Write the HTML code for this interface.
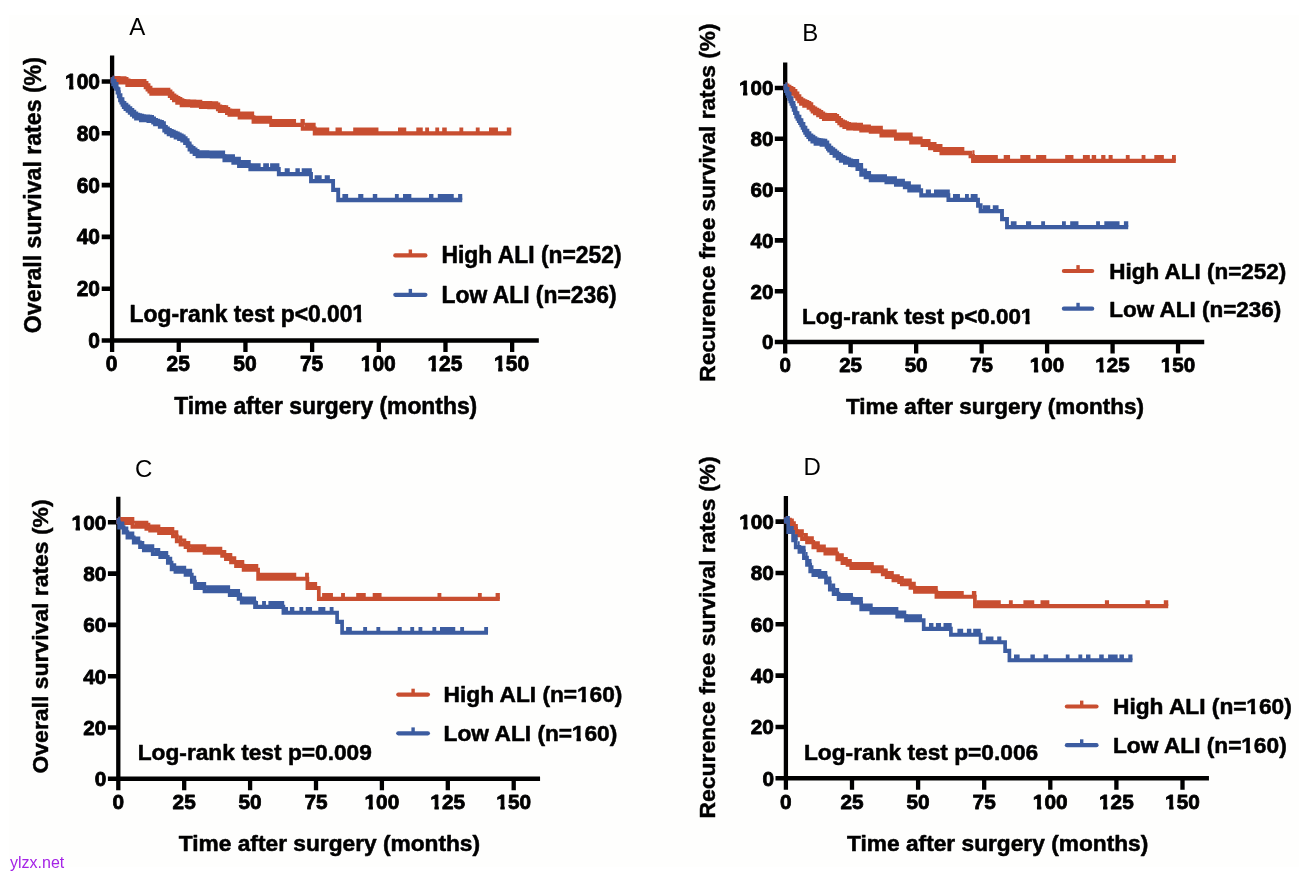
<!DOCTYPE html>
<html><head><meta charset="utf-8"><title>Kaplan-Meier curves</title>
<style>html,body{margin:0;padding:0;background:#fff}svg{display:block}
text{font-family:"Liberation Sans",Arial,Helvetica,sans-serif}</style></head>
<body><svg width="1306" height="878" viewBox="0 0 1306 878">
<rect width="1306" height="878" fill="#fff"/>
<rect x="9" y="15" width="1290" height="852" fill="#fefefd"/>
<defs><clipPath id="c0"><rect x="-3" y="-21.2" width="24.2" height="17.67"/><rect x="4.19" y="-4.24" width="4.4" height="7.24"/></clipPath><clipPath id="c1"><rect x="-3" y="-23.1" width="26.1" height="19.5"/><rect x="4.76" y="-4.62" width="4.41" height="7.62"/></clipPath><clipPath id="c2"><rect x="-3" y="-20.8" width="23.8" height="17.31"/><rect x="4.1" y="-4.16" width="4.35" height="7.16"/></clipPath><clipPath id="c3"><rect x="-3" y="-22.7" width="25.7" height="19.14"/><rect x="4.66" y="-4.54" width="4.36" height="7.54"/></clipPath><clipPath id="c4"><rect x="-3" y="-21" width="24" height="17.49"/><rect x="4.14" y="-4.2" width="4.38" height="7.2"/></clipPath><clipPath id="c5"><rect x="-3" y="-22.95" width="25.95" height="19.36"/><rect x="4.72" y="-4.59" width="4.39" height="7.59"/></clipPath></defs><path d="M112.1 55.6V342.8M112.1 340.5V351.9M178.77 340.5V351.9M245.45 340.5V351.9M312.12 340.5V351.9M378.8 340.5V351.9M445.48 340.5V351.9M512.15 340.5V351.9" stroke="#000" stroke-width="4.3" fill="none"/><path d="M109.95 340.5H538.82M101.7 340.5H112.1M101.7 288.7H112.1M101.7 236.9H112.1M101.7 185.1H112.1M101.7 133.3H112.1M101.7 81.5H112.1" stroke="#000" stroke-width="4.6" fill="none"/><text transform="translate(88.37 348.09) scale(0.99 1)" font-size="21.2" font-weight="bold" fill="#000" stroke="#000" stroke-width="0.8" stroke-linejoin="round">0</text><text transform="translate(76.64 296.29) scale(0.99 1)" font-size="21.2" font-weight="bold" fill="#000" stroke="#000" stroke-width="0.8" stroke-linejoin="round">20</text><text transform="translate(76.64 244.49) scale(0.99 1)" font-size="21.2" font-weight="bold" fill="#000" stroke="#000" stroke-width="0.8" stroke-linejoin="round">40</text><text transform="translate(76.64 192.69) scale(0.99 1)" font-size="21.2" font-weight="bold" fill="#000" stroke="#000" stroke-width="0.8" stroke-linejoin="round">60</text><text transform="translate(76.64 140.89) scale(0.99 1)" font-size="21.2" font-weight="bold" fill="#000" stroke="#000" stroke-width="0.8" stroke-linejoin="round">80</text><text transform="translate(64.91 89.09) scale(0.99 1)" font-size="21.2" font-weight="bold" fill="#000" stroke="#000" stroke-width="0.8" stroke-linejoin="round" clip-path="url(#c0)">1</text><text transform="translate(76.64 89.09) scale(0.99 1)" font-size="21.2" font-weight="bold" fill="#000" stroke="#000" stroke-width="0.8" stroke-linejoin="round">00</text><text transform="translate(105.73 370.9) scale(0.99 1)" font-size="21.2" font-weight="bold" fill="#000" stroke="#000" stroke-width="0.8" stroke-linejoin="round">0</text><text transform="translate(166.54 370.9) scale(0.99 1)" font-size="21.2" font-weight="bold" fill="#000" stroke="#000" stroke-width="0.8" stroke-linejoin="round">25</text><text transform="translate(233.22 370.9) scale(0.99 1)" font-size="21.2" font-weight="bold" fill="#000" stroke="#000" stroke-width="0.8" stroke-linejoin="round">50</text><text transform="translate(299.89 370.9) scale(0.99 1)" font-size="21.2" font-weight="bold" fill="#000" stroke="#000" stroke-width="0.8" stroke-linejoin="round">75</text><text transform="translate(360.7 370.9) scale(0.99 1)" font-size="21.2" font-weight="bold" fill="#000" stroke="#000" stroke-width="0.8" stroke-linejoin="round" clip-path="url(#c0)">1</text><text transform="translate(372.43 370.9) scale(0.99 1)" font-size="21.2" font-weight="bold" fill="#000" stroke="#000" stroke-width="0.8" stroke-linejoin="round">00</text><text transform="translate(427.38 370.9) scale(0.99 1)" font-size="21.2" font-weight="bold" fill="#000" stroke="#000" stroke-width="0.8" stroke-linejoin="round" clip-path="url(#c0)">1</text><text transform="translate(439.11 370.9) scale(0.99 1)" font-size="21.2" font-weight="bold" fill="#000" stroke="#000" stroke-width="0.8" stroke-linejoin="round">25</text><text transform="translate(494.05 370.9) scale(0.99 1)" font-size="21.2" font-weight="bold" fill="#000" stroke="#000" stroke-width="0.8" stroke-linejoin="round" clip-path="url(#c0)">1</text><text transform="translate(505.78 370.9) scale(0.99 1)" font-size="21.2" font-weight="bold" fill="#000" stroke="#000" stroke-width="0.8" stroke-linejoin="round">50</text><text transform="translate(174.13 414) scale(0.99 1)" font-size="23.1" font-weight="bold" fill="#000" stroke="#000" stroke-width="0.55" stroke-linejoin="round">Time after surgery (months)</text><text transform="translate(40.6 333.17) rotate(-90) scale(1 1)" font-size="23.1" font-weight="bold" text-anchor="start" stroke="#000" stroke-width="0.45" stroke-linejoin="round">Overall survival rates (%)</text><text transform="translate(129.6 322.3) scale(0.99 1)" font-size="23.1" font-weight="bold" fill="#000" stroke="#000" stroke-width="0.55" stroke-linejoin="round">Log-rank test p&lt;0.00</text><text transform="translate(352.17 322.3) scale(0.99 1)" font-size="23.1" font-weight="bold" fill="#000" stroke="#000" stroke-width="0.55" stroke-linejoin="round" clip-path="url(#c1)">1</text><path d="M395.3 255.4H425.4" stroke="#c84e30" stroke-width="4.2" stroke-linecap="round" fill="none"/><rect x="408.65" y="249.5" width="3.4" height="5.9" fill="#c84e30"/><text transform="translate(441.5 263) scale(0.99 1)" font-size="23.1" font-weight="bold" fill="#000" stroke="#000" stroke-width="0.55" stroke-linejoin="round">High ALI (n=252)</text><path d="M395.3 294.8H425.4" stroke="#3c5ca0" stroke-width="4.2" stroke-linecap="round" fill="none"/><rect x="408.65" y="288.9" width="3.4" height="5.9" fill="#3c5ca0"/><text transform="translate(441.5 302.6) scale(0.99 1)" font-size="23.1" font-weight="bold" fill="#000" stroke="#000" stroke-width="0.55" stroke-linejoin="round">Low ALI (n=236)</text><text x="129.3" y="34.5" font-size="24" font-weight="normal" text-anchor="start" fill="#000">A</text><g transform="scale(0.9 1)"><path d="M125 81.7H132.33V82.3H139.67H141.44V84.8H143.22H160.78H161.82V87.03H163.9V89.25H165.99V91.47H168.07V93.7H169.11H187.44H188.61V95.8H190.94V97.9H193.28V100H194.44H196.89V102.5H201.78V105H204.22H213.33V105.7H222.44H223.17V106.9H223.89H232.44V107.1H241H242.06V109H244.17V110.9H245.22H250.78H252.17V112.8H254.94V114.7H256.33H266.22V117.3H281.67V121.7H301.33V124.8H336.33V128.6H349.67V133.4H568" fill="none" stroke="#c84e30" stroke-width="4.3" stroke-linejoin="miter"/></g><path d="M112.5 81.7V75.8H114.54V81.7ZM114.49 81.79V75.89H116.54V81.79ZM116.49 81.88V75.98H118.53V81.88ZM118.48 81.97V76.07H120.53V81.97ZM120.48 82.06V76.16H122.52V82.06ZM122.47 82.15V76.25H124.52V82.15ZM124.47 82.24V76.34H126.51V82.24ZM126.46 82.9V77H128.51V82.9ZM128.46 84.45V78.55H130.5V84.45ZM130.45 84.8V78.9H132.5V84.8ZM132.45 84.8V78.9H134.49V84.8ZM134.44 84.8V78.9H136.48V84.8ZM136.43 84.8V78.9H138.48V84.8ZM138.43 84.8V78.9H140.47V84.8ZM140.42 84.8V78.9H142.47V84.8ZM142.42 84.8V78.9H144.46V84.8ZM144.41 84.8V78.9H146.46V84.8ZM146.41 86.83V80.93H148.45V86.83ZM148.4 89.19V83.29H150.45V89.19ZM150.4 91.56V85.66H152.44V91.56ZM152.39 93.7V87.8H154.44V93.7ZM154.39 93.7V87.8H156.43V93.7ZM156.38 93.7V87.8H158.43V93.7ZM158.38 93.7V87.8H160.42V93.7ZM160.37 93.7V87.8H162.41V93.7ZM162.36 93.7V87.8H164.41V93.7ZM164.36 93.7V87.8H166.4V93.7ZM166.35 93.7V87.8H168.4V93.7ZM168.35 93.7V87.8H170.39V93.7ZM170.34 95.34V89.44H172.39V95.34ZM172.34 97.34V91.44H174.38V97.34ZM174.33 99.33V93.43H176.38V99.33ZM176.33 100.75V94.85H178.37V100.75ZM178.32 101.89V95.99H180.37V101.89ZM180.32 103.02V97.12H182.36V103.02ZM182.31 104.15V98.25H184.35V104.15ZM184.3 105.02V99.12H186.35V105.02ZM186.3 105.11V99.21H188.34V105.11ZM188.29 105.19V99.29H190.34V105.19ZM190.29 105.28V99.38H192.33V105.28ZM192.28 105.36V99.46H194.33V105.36ZM194.28 105.45V99.55H196.32V105.45ZM196.27 105.53V99.63H198.32V105.53ZM198.27 105.62V99.72H200.31V105.62ZM200.26 105.76V99.86H202.31V105.76ZM202.26 106.91V101.01H204.3V106.91ZM204.25 106.94V101.04H206.29V106.94ZM206.24 106.96V101.06H208.29V106.96ZM208.24 106.99V101.09H210.28V106.99ZM210.23 107.01V101.11H212.28V107.01ZM212.23 107.04V101.14H214.27V107.04ZM214.22 107.07V101.17H216.27V107.07ZM216.22 107.09V101.19H218.26V107.09ZM218.21 108.41V102.51H220.26V108.41ZM220.21 110.41V104.51H222.25V110.41ZM222.2 110.9V105H224.25V110.9ZM224.2 110.9V105H226.24V110.9ZM226.19 111.27V105.37H228.23V111.27ZM228.18 112.79V106.89H230.23V112.79ZM230.18 114.3V108.4H232.22V114.3ZM232.17 114.7V108.8H234.22V114.7ZM234.17 114.7V108.8H236.21V114.7ZM236.16 114.7V108.8H238.21V114.7ZM238.16 114.7V108.8H240.2V114.7ZM240.15 117.3V111.4H242.2V117.3ZM242.15 117.3V111.4H244.19V117.3ZM244.14 117.3V111.4H246.19V117.3ZM246.14 117.3V111.4H248.18V117.3ZM248.13 117.3V111.4H250.18V117.3ZM250.12 117.3V111.4H252.17V117.3ZM252.12 117.3V111.4H254.16V117.3ZM254.11 121.7V115.8H256.16V121.7ZM256.11 121.7V115.8H258.15V121.7ZM258.1 121.7V115.8H260.15V121.7ZM260.1 121.7V115.8H262.14V121.7ZM262.09 121.7V115.8H264.14V121.7ZM264.09 121.7V115.8H266.13V121.7ZM266.08 121.7V115.8H268.13V121.7ZM268.08 121.7V115.8H270.12V121.7ZM270.07 121.7V115.8H272.12V121.7ZM272.07 124.8V118.9H274.11V124.8ZM274.06 124.8V118.9H276.1V124.8ZM276.05 124.8V118.9H278.1V124.8ZM278.05 124.8V118.9H280.09V124.8ZM280.04 124.8V118.9H282.09V124.8ZM282.04 124.8V118.9H284.08V124.8ZM284.03 124.8V118.9H286.08V124.8ZM286.03 124.8V118.9H288.07V124.8ZM288.02 124.8V118.9H290.07V124.8ZM290.02 124.8V118.9H292.06V124.8ZM292.01 124.8V118.9H294.06V124.8ZM294.01 124.8V118.9H296.05V124.8ZM304.8 128.6V122.7H306.65V128.6ZM306.6 128.6V122.7H308.45V128.6ZM308.4 128.6V122.7H310.25V128.6ZM310.2 128.6V122.7H312.05V128.6ZM312 128.6V122.7H313.85V128.6ZM313.8 128.6V122.7H315.65V128.6ZM300.5 124.8V118.9H304.8V124.8ZM315.3 133.4V127.5H317.34V133.4ZM317.29 133.4V127.5H319.32V133.4ZM319.27 133.4V127.5H321.31V133.4ZM321.26 133.4V127.5H323.29V133.4ZM323.24 133.4V127.5H325.28V133.4ZM325.23 133.4V127.5H327.26V133.4ZM327.21 133.4V127.5H329.25V133.4ZM335.5 133.4V127.5H337.12V133.4ZM337.07 133.4V127.5H338.7V133.4ZM338.65 133.4V127.5H340.28V133.4ZM340.23 133.4V127.5H341.85V133.4ZM353.2 133.4V127.5H355.19V133.4ZM355.14 133.4V127.5H357.13V133.4ZM357.08 133.4V127.5H359.07V133.4ZM359.02 133.4V127.5H361V133.4ZM360.95 133.4V127.5H362.94V133.4ZM362.89 133.4V127.5H364.88V133.4ZM364.83 133.4V127.5H366.82V133.4ZM366.77 133.4V127.5H368.76V133.4ZM368.71 133.4V127.5H370.7V133.4ZM370.65 133.4V127.5H372.63V133.4ZM372.58 133.4V127.5H374.57V133.4ZM374.52 133.4V127.5H376.51V133.4ZM376.46 133.4V127.5H378.45V133.4ZM398 133.4V127.5H399.69V133.4ZM399.64 133.4V127.5H401.33V133.4ZM401.28 133.4V127.5H402.97V133.4ZM402.92 133.4V127.5H404.61V133.4ZM404.56 133.4V127.5H406.25V133.4ZM416.3 133.4V127.5H417.95V133.4ZM417.9 133.4V127.5H419.55V133.4ZM419.5 133.4V127.5H421.15V133.4ZM421.1 133.4V127.5H422.75V133.4ZM425.2 133.4V127.5H427.15V133.4ZM427.1 133.4V127.5H429.05V133.4ZM435.3 133.4V127.5H437.25V133.4ZM437.2 133.4V127.5H439.15V133.4ZM442.2 133.4V127.5H443.75V133.4ZM443.7 133.4V127.5H445.25V133.4ZM445.2 133.4V127.5H446.75V133.4ZM459.4 133.4V127.5H461.35V133.4ZM461.3 133.4V127.5H463.25V133.4ZM475.8 133.4V127.5H477.75V133.4ZM477.7 133.4V127.5H479.65V133.4ZM489 133.4V127.5H490.83V133.4ZM490.78 133.4V127.5H492.61V133.4ZM492.56 133.4V127.5H494.39V133.4ZM494.34 133.4V127.5H496.17V133.4ZM496.12 133.4V127.5H497.95V133.4ZM506.8 133.4V127.5H508.32V133.4ZM508.27 133.4V127.5H509.78V133.4ZM509.73 133.4V127.5H511.25V133.4ZM110.6 83.2V77.3H114.4V83.2Z" fill="#c84e30"/><g transform="scale(0.9 1)"><path d="M125 81.7H125.81V84H127.44V86.3H129.07V88.6H129.89H130.59V92.4H132V96.2H133.41V100H134.11H134.8V102.3H136.17V104.6H137.54V106.9H138.22H139.41V108.8H141.78V110.7H144.15V112.6H145.33H146.5V114.5H148.83V116.4H151.17V118.3H152.33H156.56V120.2H160.78H164.94V120.8H169.11H170.17V122.4H172.28V124H173.33H177.56V126.5H181.78H182.5V130.3H183.22H184.61V132.2H187.39V134.1H188.78H190.89V135.7H195.11V137.3H197.22H198.97V138.85H202.47V140.4H204.22H205.64V142.95H208.47V145.5H209.89H210.56V149.3H211.22H212.87V151.6H216.17V153.9H219.46V156.2H221.11H235.22V156.4H249.33V160.2H259.22V162.7H265.56V165.9H278.11V169.1H309.78V174.1H345.56V181.1H370.11V189.9H375.78V200H513.56" fill="none" stroke="#3c5ca0" stroke-width="4.3" stroke-linejoin="miter"/></g><path d="M112.5 81.7V75.8H114.52V81.7ZM114.47 84.8V78.9H116.5V84.8ZM116.45 87.89V81.99H118.47V87.89ZM118.42 93.17V87.27H120.45V93.17ZM120.4 99.1V93.2H122.42V99.1ZM122.37 103.12V97.22H124.4V103.12ZM124.35 106.8V100.9H126.37V106.8ZM126.32 108.61V102.71H128.35V108.61ZM128.3 110.37V104.47H130.32V110.37ZM130.27 112.13V106.23H132.3V112.13ZM132.25 113.91V108.01H134.27V113.91ZM134.22 115.7V109.8H136.25V115.7ZM136.2 117.48V111.58H138.22V117.48ZM138.17 118.57V112.67H140.2V118.57ZM140.15 119.06V113.16H142.17V119.06ZM142.12 119.56V113.66H144.14V119.56ZM144.09 120.05V114.15H146.12V120.05ZM146.07 120.31V114.41H148.09V120.31ZM148.04 120.47V114.57H150.07V120.47ZM150.02 120.63V114.73H152.04V120.63ZM151.99 120.78V114.88H154.02V120.78ZM153.97 122.29V116.39H155.99V122.29ZM155.94 123.95V118.05H157.97V123.95ZM157.92 124.63V118.73H159.94V124.63ZM159.89 125.28V119.38H161.92V125.28ZM161.87 125.93V120.03H163.89V125.93ZM163.84 127.21V121.31H165.87V127.21ZM165.82 131V125.1H167.84V131ZM167.79 132.5V126.6H169.82V132.5ZM169.77 134V128.1H171.79V134ZM171.74 134.87V128.97H173.76V134.87ZM173.71 135.71V129.81H175.74V135.71ZM175.69 136.54V130.64H177.71V136.54ZM177.66 137.38V131.48H179.69V137.38ZM179.64 138.35V132.45H181.66V138.35ZM181.61 139.32V133.42H183.64V139.32ZM183.59 140.3V134.4H185.61V140.3ZM185.56 142.16V136.26H187.59V142.16ZM187.54 144.14V138.24H189.56V144.14ZM189.51 147.44V141.54H191.54V147.44ZM191.49 150.38V144.48H193.51V150.38ZM193.46 151.91V146.01H195.49V151.91ZM195.44 153.44V147.54H197.46V153.44ZM197.41 154.97V149.07H199.44V154.97ZM199.39 156.2V150.3H201.41V156.2ZM201.36 156.22V150.32H203.38V156.22ZM203.33 156.23V150.33H205.36V156.23ZM205.31 156.25V150.35H207.33V156.25ZM207.28 156.27V150.37H209.31V156.27ZM209.26 156.28V150.38H211.28V156.28ZM211.23 156.3V150.4H213.26V156.3ZM213.21 156.31V150.41H215.23V156.31ZM215.18 156.33V150.43H217.21V156.33ZM217.16 156.34V150.44H219.18V156.34ZM219.13 156.36V150.46H221.16V156.36ZM221.11 156.37V150.47H223.13V156.37ZM223.08 156.39V150.49H225.11V156.39ZM225.06 160.2V154.3H227.08V160.2ZM227.03 160.2V154.3H229.06V160.2ZM229.01 160.2V154.3H231.03V160.2ZM230.98 160.2V154.3H233V160.2ZM232.95 160.2V154.3H234.98V160.2ZM234.93 162.7V156.8H236.95V162.7ZM236.9 162.7V156.8H238.93V162.7ZM238.88 162.7V156.8H240.9V162.7ZM240.85 165.9V160H242.88V165.9ZM242.83 165.9V160H244.85V165.9ZM244.8 165.9V160H246.83V165.9ZM246.78 165.9V160H248.8V165.9ZM248.75 165.9V160H250.78V165.9ZM250.73 169.1V163.2H252.75V169.1ZM252.7 169.1V163.2H254.73V169.1ZM254.68 169.1V163.2H256.7V169.1ZM256.65 169.1V163.2H258.68V169.1ZM258.63 169.1V163.2H260.65V169.1ZM263.2 169.1V163.2H265.15V169.1ZM265.1 169.1V163.2H267.05V169.1ZM267 169.1V163.2H268.95V169.1ZM270.1 169.1V163.2H279.4V169.1ZM284.7 174.1V168.2H286.42V174.1ZM286.37 174.1V168.2H288.08V174.1ZM288.03 174.1V168.2H289.75V174.1ZM295.4 174.1V168.2H296.92V174.1ZM296.87 174.1V168.2H298.38V174.1ZM298.33 174.1V168.2H299.85V174.1ZM301.7 174.1V168.2H303.43V174.1ZM303.38 174.1V168.2H305.12V174.1ZM305.07 174.1V168.2H306.8V174.1ZM306.75 174.1V168.2H308.48V174.1ZM308.43 174.1V168.2H310.17V174.1ZM310.12 174.1V168.2H311.85V174.1ZM314.6 181.1V175.2H316.4V181.1ZM316.35 181.1V175.2H318.15V181.1ZM318.1 181.1V175.2H319.9V181.1ZM319.85 181.1V175.2H321.65V181.1ZM324.7 181.1V175.2H326.45V181.1ZM326.4 181.1V175.2H328.15V181.1ZM328.1 181.1V175.2H329.85V181.1ZM342.4 200V194.1H344.35V200ZM344.3 200V194.1H346.25V200ZM346.2 200V194.1H348.15V200ZM358.2 200V194.1H359.95V200ZM359.9 200V194.1H361.65V200ZM361.6 200V194.1H363.35V200ZM372.8 200V194.1H374.32V200ZM374.27 200V194.1H375.78V200ZM375.73 200V194.1H377.25V200ZM394.9 200V194.1H396.85V200ZM396.8 200V194.1H398.75V200ZM403 200V194.1H404.71V200ZM404.66 200V194.1H406.37V200ZM406.32 200V194.1H408.03V200ZM407.98 200V194.1H409.69V200ZM409.64 200V194.1H411.35V200ZM429 200V194.1H430.52V200ZM430.47 200V194.1H431.98V200ZM431.93 200V194.1H433.45V200ZM437.8 200V194.1H439.84V200ZM439.79 200V194.1H441.82V200ZM441.77 200V194.1H443.81V200ZM443.76 200V194.1H445.8V200ZM445.75 200V194.1H447.79V200ZM447.74 200V194.1H449.78V200ZM449.73 200V194.1H451.76V200ZM451.71 200V194.1H453.75V200ZM458.1 200V194.1H459.52V200ZM459.47 200V194.1H460.88V200ZM460.83 200V194.1H462.25V200ZM110.6 83.2V77.3H114.4V83.2Z" fill="#3c5ca0"/><path d="M785.2 62.6V344.3M785.2 342V353.4M850.68 342V353.4M916.15 342V353.4M981.62 342V353.4M1047.1 342V353.4M1112.58 342V353.4M1178.05 342V353.4" stroke="#000" stroke-width="4.3" fill="none"/><path d="M783.05 342H1204.24M774.8 342H785.2M774.8 291.2H785.2M774.8 240.4H785.2M774.8 189.6H785.2M774.8 138.8H785.2M774.8 88H785.2" stroke="#000" stroke-width="4.6" fill="none"/><text transform="translate(761.99 349.45) scale(0.99 1)" font-size="20.8" font-weight="bold" fill="#000" stroke="#000" stroke-width="0.8" stroke-linejoin="round">0</text><text transform="translate(750.48 298.65) scale(0.99 1)" font-size="20.8" font-weight="bold" fill="#000" stroke="#000" stroke-width="0.8" stroke-linejoin="round">20</text><text transform="translate(750.48 247.85) scale(0.99 1)" font-size="20.8" font-weight="bold" fill="#000" stroke="#000" stroke-width="0.8" stroke-linejoin="round">40</text><text transform="translate(750.48 197.05) scale(0.99 1)" font-size="20.8" font-weight="bold" fill="#000" stroke="#000" stroke-width="0.8" stroke-linejoin="round">60</text><text transform="translate(750.48 146.25) scale(0.99 1)" font-size="20.8" font-weight="bold" fill="#000" stroke="#000" stroke-width="0.8" stroke-linejoin="round">80</text><text transform="translate(738.97 95.45) scale(0.99 1)" font-size="20.8" font-weight="bold" fill="#000" stroke="#000" stroke-width="0.8" stroke-linejoin="round" clip-path="url(#c2)">1</text><text transform="translate(750.48 95.45) scale(0.99 1)" font-size="20.8" font-weight="bold" fill="#000" stroke="#000" stroke-width="0.8" stroke-linejoin="round">00</text><text transform="translate(779.45 372.1) scale(0.99 1)" font-size="20.8" font-weight="bold" fill="#000" stroke="#000" stroke-width="0.8" stroke-linejoin="round">0</text><text transform="translate(839.17 372.1) scale(0.99 1)" font-size="20.8" font-weight="bold" fill="#000" stroke="#000" stroke-width="0.8" stroke-linejoin="round">25</text><text transform="translate(904.64 372.1) scale(0.99 1)" font-size="20.8" font-weight="bold" fill="#000" stroke="#000" stroke-width="0.8" stroke-linejoin="round">50</text><text transform="translate(970.12 372.1) scale(0.99 1)" font-size="20.8" font-weight="bold" fill="#000" stroke="#000" stroke-width="0.8" stroke-linejoin="round">75</text><text transform="translate(1029.84 372.1) scale(0.99 1)" font-size="20.8" font-weight="bold" fill="#000" stroke="#000" stroke-width="0.8" stroke-linejoin="round" clip-path="url(#c2)">1</text><text transform="translate(1041.35 372.1) scale(0.99 1)" font-size="20.8" font-weight="bold" fill="#000" stroke="#000" stroke-width="0.8" stroke-linejoin="round">00</text><text transform="translate(1095.31 372.1) scale(0.99 1)" font-size="20.8" font-weight="bold" fill="#000" stroke="#000" stroke-width="0.8" stroke-linejoin="round" clip-path="url(#c2)">1</text><text transform="translate(1106.82 372.1) scale(0.99 1)" font-size="20.8" font-weight="bold" fill="#000" stroke="#000" stroke-width="0.8" stroke-linejoin="round">25</text><text transform="translate(1160.79 372.1) scale(0.99 1)" font-size="20.8" font-weight="bold" fill="#000" stroke="#000" stroke-width="0.8" stroke-linejoin="round" clip-path="url(#c2)">1</text><text transform="translate(1172.3 372.1) scale(0.99 1)" font-size="20.8" font-weight="bold" fill="#000" stroke="#000" stroke-width="0.8" stroke-linejoin="round">50</text><text transform="translate(846.01 414) scale(0.99 1)" font-size="22.7" font-weight="bold" fill="#000" stroke="#000" stroke-width="0.55" stroke-linejoin="round">Time after surgery (months)</text><text transform="translate(715.1 381.67) rotate(-90) scale(1 1)" font-size="22.7" font-weight="bold" text-anchor="start" stroke="#000" stroke-width="0.45" stroke-linejoin="round">Recurence free survival rates (%)</text><text transform="translate(802 323.6) scale(0.99 1)" font-size="22.7" font-weight="bold" fill="#000" stroke="#000" stroke-width="0.55" stroke-linejoin="round">Log-rank test p&lt;0.00</text><text transform="translate(1020.72 323.6) scale(0.99 1)" font-size="22.7" font-weight="bold" fill="#000" stroke="#000" stroke-width="0.55" stroke-linejoin="round" clip-path="url(#c3)">1</text><path d="M1063.9 271H1092.2" stroke="#c84e30" stroke-width="4.2" stroke-linecap="round" fill="none"/><rect x="1076.35" y="265.1" width="3.4" height="5.9" fill="#c84e30"/><text transform="translate(1109.2 278.6) scale(0.99 1)" font-size="22.7" font-weight="bold" fill="#000" stroke="#000" stroke-width="0.55" stroke-linejoin="round">High ALI (n=252)</text><path d="M1063.9 308.7H1092.2" stroke="#3c5ca0" stroke-width="4.2" stroke-linecap="round" fill="none"/><rect x="1076.35" y="302.8" width="3.4" height="5.9" fill="#3c5ca0"/><text transform="translate(1109.2 316.8) scale(0.99 1)" font-size="22.7" font-weight="bold" fill="#000" stroke="#000" stroke-width="0.55" stroke-linejoin="round">Low ALI (n=236)</text><text x="802.2" y="41.1" font-size="24" font-weight="normal" text-anchor="start" fill="#000">B</text><g transform="scale(0.9 1)"><path d="M872.67 88.3H874.33V90.07H877.67V91.83H881V93.6H882.67H883.72V96.1H885.83V98.6H886.89H887.94V101.15H890.06V103.7H891.11H893.56V105.6H898.44V107.5H900.89H901.58V109.4H902.97V111.3H903.67H905.44V113.15H909V115H910.78H912.33V116.9H915.44V118.8H917H929H930.17V120.93H932.5V123.07H934.83V125.2H936H938.11V126.75H942.33V128.3H944.44H950.06V128.7H955.67H956.89V130.3H967.44V131.6H979.33V135.4H995.44V138.5H1012.33V142.3H1025V144.8H1033.33V148H1039V149.9H1046V153H1078.33V156.2H1081.11V160.8H1306.44" fill="none" stroke="#c84e30" stroke-width="4.3" stroke-linejoin="miter"/></g><path d="M785.4 88.3V82.4H787.44V88.3ZM787.39 89.47V83.57H789.43V89.47ZM789.38 90.64V84.74H791.41V90.64ZM791.36 91.81V85.91H793.4V91.81ZM793.35 92.98V87.08H795.39V92.98ZM795.34 94.84V88.94H797.38V94.84ZM797.33 97.45V91.55H799.36V97.45ZM799.31 100.1V94.2H801.35V100.1ZM801.3 102.76V96.86H803.34V102.76ZM803.29 104.26V98.36H805.33V104.26ZM805.28 105.12V99.22H807.32V105.12ZM807.27 105.97V100.07H809.3V105.97ZM809.25 106.83V100.93H811.29V106.83ZM811.24 108.17V102.27H813.28V108.17ZM813.23 111.19V105.29H815.27V111.19ZM815.22 112.41V106.51H817.25V112.41ZM817.2 113.56V107.66H819.24V113.56ZM819.19 114.71V108.81H821.23V114.71ZM821.18 116V110.1H823.22V116ZM823.17 117.35V111.45H825.21V117.35ZM825.16 118.7V112.8H827.19V118.7ZM827.14 118.8V112.9H829.18V118.8ZM829.13 118.8V112.9H831.17V118.8ZM831.12 118.8V112.9H833.16V118.8ZM833.11 118.8V112.9H835.14V118.8ZM835.09 118.8V112.9H837.13V118.8ZM837.08 119.8V113.9H839.12V119.8ZM839.07 121.82V115.92H841.11V121.82ZM841.06 123.84V117.94H843.1V123.84ZM843.05 125.46V119.56H845.08V125.46ZM845.03 126.27V120.37H847.07V126.27ZM847.02 127.08V121.18H849.06V127.08ZM849.01 127.9V122H851.05V127.9ZM851 128.34V122.44H853.03V128.34ZM852.98 128.42V122.52H855.02V128.42ZM854.97 128.5V122.6H857.01V128.5ZM856.96 128.58V122.68H859V128.58ZM858.95 128.65V122.75H860.99V128.65ZM860.94 128.7V122.8H862.97V128.7ZM862.92 130.3V124.4H864.96V130.3ZM864.91 130.3V124.4H866.95V130.3ZM866.9 130.3V124.4H868.94V130.3ZM868.89 130.3V124.4H870.92V130.3ZM870.87 131.6V125.7H872.91V131.6ZM872.86 131.6V125.7H874.9V131.6ZM874.85 131.6V125.7H876.89V131.6ZM876.84 131.6V125.7H878.88V131.6ZM878.83 131.6V125.7H880.86V131.6ZM880.81 131.6V125.7H882.85V131.6ZM882.8 135.4V129.5H884.84V135.4ZM884.79 135.4V129.5H886.83V135.4ZM886.78 135.4V129.5H888.81V135.4ZM888.76 135.4V129.5H890.8V135.4ZM890.75 135.4V129.5H892.79V135.4ZM892.74 135.4V129.5H894.78V135.4ZM894.73 135.4V129.5H896.77V135.4ZM896.72 138.5V132.6H898.75V138.5ZM898.7 138.5V132.6H900.74V138.5ZM900.69 138.5V132.6H902.73V138.5ZM902.68 138.5V132.6H904.72V138.5ZM904.67 138.5V132.6H906.7V138.5ZM906.65 138.5V132.6H908.69V138.5ZM908.64 138.5V132.6H910.68V138.5ZM910.63 138.5V132.6H912.67V138.5ZM912.62 142.3V136.4H914.66V142.3ZM914.61 142.3V136.4H916.64V142.3ZM916.59 142.3V136.4H918.63V142.3ZM918.58 142.3V136.4H920.62V142.3ZM920.57 142.3V136.4H922.61V142.3ZM922.56 144.8V138.9H924.59V144.8ZM924.54 144.8V138.9H926.58V144.8ZM926.53 144.8V138.9H928.57V144.8ZM928.52 144.8V138.9H930.56V144.8ZM930.51 148V142.1H932.55V148ZM932.5 148V142.1H934.53V148ZM934.48 148V142.1H936.52V148ZM936.47 149.9V144H938.51V149.9ZM938.46 149.9V144H940.5V149.9ZM940.45 149.9V144H942.48V149.9ZM942.43 153V147.1H944.47V153ZM944.42 153V147.1H946.46V153ZM946.41 153V147.1H948.45V153ZM948.4 153V147.1H950.44V153ZM950.39 153V147.1H952.42V153ZM952.37 153V147.1H954.41V153ZM954.36 153V147.1H956.4V153ZM956.35 153V147.1H958.39V153ZM958.34 153V147.1H960.37V153ZM960.32 153V147.1H962.36V153ZM962.31 153V147.1H964.35V153ZM972.5 156.2V150.3H974.5V156.2ZM974.45 160.8V154.9H976.44V160.8ZM976.39 160.8V154.9H978.39V160.8ZM978.34 160.8V154.9H980.33V160.8ZM980.28 160.8V154.9H982.28V160.8ZM982.23 160.8V154.9H984.23V160.8ZM984.18 160.8V154.9H986.17V160.8ZM986.12 160.8V154.9H988.12V160.8ZM988.07 160.8V154.9H990.07V160.8ZM990.02 160.8V154.9H992.01V160.8ZM991.96 160.8V154.9H993.96V160.8ZM993.91 160.8V154.9H995.9V160.8ZM995.85 160.8V154.9H997.85V160.8ZM1003.7 160.8V154.9H1005.33V160.8ZM1005.28 160.8V154.9H1006.9V160.8ZM1006.85 160.8V154.9H1008.47V160.8ZM1008.42 160.8V154.9H1010.05V160.8ZM1020.3 160.8V154.9H1022.03V160.8ZM1021.98 160.8V154.9H1023.72V160.8ZM1023.67 160.8V154.9H1025.4V160.8ZM1025.35 160.8V154.9H1027.08V160.8ZM1027.03 160.8V154.9H1028.77V160.8ZM1028.72 160.8V154.9H1030.45V160.8ZM1036.1 160.8V154.9H1037.83V160.8ZM1037.78 160.8V154.9H1039.52V160.8ZM1039.47 160.8V154.9H1041.2V160.8ZM1041.15 160.8V154.9H1042.88V160.8ZM1042.83 160.8V154.9H1044.57V160.8ZM1044.52 160.8V154.9H1046.25V160.8ZM1065.2 160.8V154.9H1066.89V160.8ZM1066.84 160.8V154.9H1068.53V160.8ZM1068.48 160.8V154.9H1070.17V160.8ZM1070.12 160.8V154.9H1071.81V160.8ZM1071.76 160.8V154.9H1073.45V160.8ZM1082.9 160.8V154.9H1084.67V160.8ZM1084.62 160.8V154.9H1086.4V160.8ZM1086.35 160.8V154.9H1088.12V160.8ZM1088.08 160.8V154.9H1089.85V160.8ZM1091.7 160.8V154.9H1093.22V160.8ZM1093.17 160.8V154.9H1094.68V160.8ZM1094.63 160.8V154.9H1096.15V160.8ZM1101.2 160.8V154.9H1102.65V160.8ZM1102.6 160.8V154.9H1104.05V160.8ZM1104 160.8V154.9H1105.45V160.8ZM1108.6 160.8V154.9H1110.65V160.8ZM1110.6 160.8V154.9H1112.65V160.8ZM1125.8 160.8V154.9H1127.75V160.8ZM1127.7 160.8V154.9H1129.65V160.8ZM1141.6 160.8V154.9H1143.55V160.8ZM1143.5 160.8V154.9H1145.45V160.8ZM1154.3 160.8V154.9H1156.25V160.8ZM1156.2 160.8V154.9H1158.15V160.8ZM1158.1 160.8V154.9H1160.05V160.8ZM1160 160.8V154.9H1161.95V160.8ZM1161.9 160.8V154.9H1163.85V160.8ZM1172 160.8V154.9H1173.95V160.8ZM1173.9 160.8V154.9H1175.85V160.8ZM783.5 89.8V83.9H787.3V89.8Z" fill="#c84e30"/><g transform="scale(0.9 1)"><path d="M872.67 88.3H873.28V90.86H874.5V93.41H875.72V95.97H876.94V98.53H878.17V101.09H879.39V103.64H880.61V106.2H881.22H881.93V109.57H883.33V112.93H884.74V116.3H885.44H886.15V118.53H887.57V120.75H888.99V122.97H890.4V125.2H891.11H891.81V127.7H893.22V130.2H894.63V132.7H895.33H896.26V134.8H898.11V136.9H899.96V139H900.89H902.64V141.25H906.14V143.5H907.89H912.83V144.7H917.78H918.48V146.6H919.89V148.5H921.3V150.4H922H923.75V152.95H927.25V155.5H929H930.75V158H934.25V160.5H936H938.81V162.7H944.42V164.9H947.22V165H952.67V168.8H956.89V174.5H961.78V177H967.44V180.2H984.89V182.1H995.44V184.6H1005.33V187.2H1010.22V190.3H1023.56V195.4H1053.78V199.8H1086.67V205.5H1089.56V211.2H1113.33V219.1H1118.89V227.1H1253.56" fill="none" stroke="#3c5ca0" stroke-width="4.3" stroke-linejoin="miter"/></g><path d="M785.4 88.3V82.4H787.44V88.3ZM787.39 92.93V87.03H789.43V92.93ZM789.38 97.56V91.66H791.42V97.56ZM791.37 102.19V96.29H793.41V102.19ZM793.36 106.9V101H795.41V106.9ZM795.36 112.2V106.3H797.4V112.2ZM797.35 117.08V111.18H799.39V117.08ZM799.34 120.55V114.65H801.38V120.55ZM801.33 124.03V118.13H803.37V124.03ZM803.32 127.81V121.91H805.36V127.81ZM805.31 131.74V125.84H807.35V131.74ZM807.3 134.59V128.69H809.34V134.59ZM809.29 137.1V131.2H811.34V137.1ZM811.29 139.35V133.45H813.33V139.35ZM813.28 140.77V134.87H815.32V140.77ZM815.27 142.19V136.29H817.31V142.19ZM817.26 143.52V137.62H819.3V143.52ZM819.25 143.79V137.89H821.29V143.79ZM821.24 144.06V138.16H823.28V144.06ZM823.23 144.33V138.43H825.27V144.33ZM825.22 144.6V138.7H827.26V144.6ZM827.21 146.52V140.62H829.26V146.52ZM829.21 149.51V143.61H831.25V149.51ZM831.2 151.53V145.63H833.24V151.53ZM833.19 153.14V147.24H835.23V153.14ZM835.18 154.75V148.85H837.22V154.75ZM837.17 156.35V150.45H839.21V156.35ZM839.16 157.93V152.03H841.2V157.93ZM841.15 159.51V153.61H843.19V159.51ZM843.14 160.82V154.92H845.19V160.82ZM845.14 161.69V155.79H847.18V161.69ZM847.13 162.56V156.66H849.17V162.56ZM849.12 163.43V157.53H851.16V163.43ZM851.11 164.29V158.39H853.15V164.29ZM853.1 165V159.1H855.14V165ZM855.09 165V159.1H857.13V165ZM857.08 165V159.1H859.12V165ZM859.07 168.8V162.9H861.11V168.8ZM861.06 168.8V162.9H863.11V168.8ZM863.06 174.5V168.6H865.1V174.5ZM865.05 174.5V168.6H867.09V174.5ZM867.04 177V171.1H869.08V177ZM869.03 177V171.1H871.07V177ZM871.02 180.2V174.3H873.06V180.2ZM873.01 180.2V174.3H875.05V180.2ZM875 180.2V174.3H877.04V180.2ZM876.99 180.2V174.3H879.04V180.2ZM878.99 180.2V174.3H881.03V180.2ZM880.98 180.2V174.3H883.02V180.2ZM882.97 180.2V174.3H885.01V180.2ZM884.96 180.2V174.3H887V180.2ZM886.95 182.1V176.2H888.99V182.1ZM888.94 182.1V176.2H890.98V182.1ZM890.93 182.1V176.2H892.97V182.1ZM892.92 182.1V176.2H894.96V182.1ZM894.91 182.1V176.2H896.96V182.1ZM896.91 184.6V178.7H898.95V184.6ZM898.9 184.6V178.7H900.94V184.6ZM900.89 184.6V178.7H902.93V184.6ZM902.88 184.6V178.7H904.92V184.6ZM904.87 187.2V181.3H906.91V187.2ZM906.86 187.2V181.3H908.9V187.2ZM908.85 187.2V181.3H910.89V187.2ZM910.84 190.3V184.4H912.89V190.3ZM912.84 190.3V184.4H914.88V190.3ZM914.83 190.3V184.4H916.87V190.3ZM916.82 190.3V184.4H918.86V190.3ZM918.81 190.3V184.4H920.85V190.3ZM925.8 195.4V189.5H927.55V195.4ZM927.5 195.4V189.5H929.25V195.4ZM929.2 195.4V189.5H930.95V195.4ZM934 195.4V189.5H949.8V195.4ZM953 199.8V193.9H954.77V199.8ZM954.73 199.8V193.9H956.5V199.8ZM956.45 199.8V193.9H958.22V199.8ZM958.17 199.8V193.9H959.95V199.8ZM965 199.8V193.9H966.95V199.8ZM966.9 199.8V193.9H968.85V199.8ZM970.7 199.8V193.9H977.6V199.8ZM982.7 211.2V205.3H984.62V211.2ZM984.58 211.2V205.3H986.5V211.2ZM986.45 211.2V205.3H988.38V211.2ZM988.33 211.2V205.3H990.25V211.2ZM992.8 211.2V205.3H994.75V211.2ZM994.7 211.2V205.3H996.65V211.2ZM996.6 211.2V205.3H998.55V211.2ZM1010.8 227.1V221.2H1012.75V227.1ZM1012.7 227.1V221.2H1014.65V227.1ZM1014.6 227.1V221.2H1016.55V227.1ZM1026 227.1V221.2H1027.75V227.1ZM1027.7 227.1V221.2H1029.45V227.1ZM1029.4 227.1V221.2H1031.15V227.1ZM1041.2 227.1V221.2H1043.15V227.1ZM1043.1 227.1V221.2H1045.05V227.1ZM1062 227.1V221.2H1063.95V227.1ZM1063.9 227.1V221.2H1065.85V227.1ZM1070.2 227.1V221.2H1071.89V227.1ZM1071.84 227.1V221.2H1073.53V227.1ZM1073.48 227.1V221.2H1075.17V227.1ZM1075.12 227.1V221.2H1076.81V227.1ZM1076.76 227.1V221.2H1078.45V227.1ZM1096.1 227.1V221.2H1098.05V227.1ZM1098 227.1V221.2H1099.95V227.1ZM1104.3 227.1V221.2H1106.25V227.1ZM1106.2 227.1V221.2H1108.15V227.1ZM1108.1 227.1V221.2H1110.05V227.1ZM1110 227.1V221.2H1111.95V227.1ZM1111.9 227.1V221.2H1113.85V227.1ZM1113.8 227.1V221.2H1115.75V227.1ZM1115.7 227.1V221.2H1117.65V227.1ZM1117.6 227.1V221.2H1119.55V227.1ZM1123.9 227.1V221.2H1125.38V227.1ZM1125.33 227.1V221.2H1126.82V227.1ZM1126.77 227.1V221.2H1128.25V227.1ZM783.5 89.8V83.9H787.3V89.8Z" fill="#3c5ca0"/><path d="M118.3 496.65V781.1M118.3 778.8V790.2M184.2 778.8V790.2M250.1 778.8V790.2M316 778.8V790.2M381.9 778.8V790.2M447.8 778.8V790.2M513.7 778.8V790.2" stroke="#000" stroke-width="4.3" fill="none"/><path d="M116.15 778.8H540.06M107.9 778.8H118.3M107.9 727.5H118.3M107.9 676.2H118.3M107.9 624.9H118.3M107.9 573.6H118.3M107.9 522.3H118.3" stroke="#000" stroke-width="4.6" fill="none"/><text transform="translate(94.78 786.32) scale(0.99 1)" font-size="21" font-weight="bold" fill="#000" stroke="#000" stroke-width="0.8" stroke-linejoin="round">0</text><text transform="translate(83.16 735.02) scale(0.99 1)" font-size="21" font-weight="bold" fill="#000" stroke="#000" stroke-width="0.8" stroke-linejoin="round">20</text><text transform="translate(83.16 683.72) scale(0.99 1)" font-size="21" font-weight="bold" fill="#000" stroke="#000" stroke-width="0.8" stroke-linejoin="round">40</text><text transform="translate(83.16 632.42) scale(0.99 1)" font-size="21" font-weight="bold" fill="#000" stroke="#000" stroke-width="0.8" stroke-linejoin="round">60</text><text transform="translate(83.16 581.12) scale(0.99 1)" font-size="21" font-weight="bold" fill="#000" stroke="#000" stroke-width="0.8" stroke-linejoin="round">80</text><text transform="translate(71.54 529.82) scale(0.99 1)" font-size="21" font-weight="bold" fill="#000" stroke="#000" stroke-width="0.8" stroke-linejoin="round" clip-path="url(#c4)">1</text><text transform="translate(83.16 529.82) scale(0.99 1)" font-size="21" font-weight="bold" fill="#000" stroke="#000" stroke-width="0.8" stroke-linejoin="round">00</text><text transform="translate(112.49 809.1) scale(0.99 1)" font-size="21" font-weight="bold" fill="#000" stroke="#000" stroke-width="0.8" stroke-linejoin="round">0</text><text transform="translate(172.58 809.1) scale(0.99 1)" font-size="21" font-weight="bold" fill="#000" stroke="#000" stroke-width="0.8" stroke-linejoin="round">25</text><text transform="translate(238.48 809.1) scale(0.99 1)" font-size="21" font-weight="bold" fill="#000" stroke="#000" stroke-width="0.8" stroke-linejoin="round">50</text><text transform="translate(304.38 809.1) scale(0.99 1)" font-size="21" font-weight="bold" fill="#000" stroke="#000" stroke-width="0.8" stroke-linejoin="round">75</text><text transform="translate(364.47 809.1) scale(0.99 1)" font-size="21" font-weight="bold" fill="#000" stroke="#000" stroke-width="0.8" stroke-linejoin="round" clip-path="url(#c4)">1</text><text transform="translate(376.09 809.1) scale(0.99 1)" font-size="21" font-weight="bold" fill="#000" stroke="#000" stroke-width="0.8" stroke-linejoin="round">00</text><text transform="translate(430.37 809.1) scale(0.99 1)" font-size="21" font-weight="bold" fill="#000" stroke="#000" stroke-width="0.8" stroke-linejoin="round" clip-path="url(#c4)">1</text><text transform="translate(441.99 809.1) scale(0.99 1)" font-size="21" font-weight="bold" fill="#000" stroke="#000" stroke-width="0.8" stroke-linejoin="round">25</text><text transform="translate(496.27 809.1) scale(0.99 1)" font-size="21" font-weight="bold" fill="#000" stroke="#000" stroke-width="0.8" stroke-linejoin="round" clip-path="url(#c4)">1</text><text transform="translate(507.89 809.1) scale(0.99 1)" font-size="21" font-weight="bold" fill="#000" stroke="#000" stroke-width="0.8" stroke-linejoin="round">50</text><text transform="translate(178.83 851.3) scale(0.99 1)" font-size="22.95" font-weight="bold" fill="#000" stroke="#000" stroke-width="0.55" stroke-linejoin="round">Time after surgery (months)</text><text transform="translate(47.6 773.48) rotate(-90) scale(1 1)" font-size="22.95" font-weight="bold" text-anchor="start" stroke="#000" stroke-width="0.45" stroke-linejoin="round">Overall survival rates (%)</text><text transform="translate(137.7 760.3) scale(0.99 1)" font-size="22.95" font-weight="bold" fill="#000" stroke="#000" stroke-width="0.55" stroke-linejoin="round">Log-rank test p=0.009</text><path d="M398.3 694.6H427.9" stroke="#c84e30" stroke-width="4.2" stroke-linecap="round" fill="none"/><rect x="411.4" y="688.7" width="3.4" height="5.9" fill="#c84e30"/><text transform="translate(443.6 702.2) scale(0.99 1)" font-size="22.95" font-weight="bold" fill="#000" stroke="#000" stroke-width="0.55" stroke-linejoin="round">High ALI (n=</text><text transform="translate(576.9 702.2) scale(0.99 1)" font-size="22.95" font-weight="bold" fill="#000" stroke="#000" stroke-width="0.55" stroke-linejoin="round" clip-path="url(#c5)">1</text><text transform="translate(589.51 702.2) scale(0.99 1)" font-size="22.95" font-weight="bold" fill="#000" stroke="#000" stroke-width="0.55" stroke-linejoin="round">60)</text><path d="M398.3 733.3H427.9" stroke="#3c5ca0" stroke-width="4.2" stroke-linecap="round" fill="none"/><rect x="411.4" y="727.4" width="3.4" height="5.9" fill="#3c5ca0"/><text transform="translate(443.6 740.9) scale(0.99 1)" font-size="22.95" font-weight="bold" fill="#000" stroke="#000" stroke-width="0.55" stroke-linejoin="round">Low ALI (n=</text><text transform="translate(571.86 740.9) scale(0.99 1)" font-size="22.95" font-weight="bold" fill="#000" stroke="#000" stroke-width="0.55" stroke-linejoin="round" clip-path="url(#c5)">1</text><text transform="translate(584.47 740.9) scale(0.99 1)" font-size="22.95" font-weight="bold" fill="#000" stroke="#000" stroke-width="0.55" stroke-linejoin="round">60)</text><text x="135.1" y="476.6" font-size="24" font-weight="normal" text-anchor="start" fill="#000">C</text><g transform="scale(0.9 1)"><path d="M131.44 522.6H132.39V522.9H133.33H147.11V526.7H162.56V528.6H166.78V530.5H176.67V533H192.11V536.2H196.33V541.3H200.56V544.4H206.11V546.9H209.67V550.1H227.22V552.6H246.78V555.8H251V558.9H256.67V562.1H262.22V565.9H270.67V569.8H286.78V578.7H341.56V588H354.22V598.9H555.33" fill="none" stroke="#c84e30" stroke-width="4.1" stroke-linejoin="miter"/></g><path d="M118.3 522.6V516.7H120.35V522.6ZM120.3 522.9V517H122.35V522.9ZM122.3 522.9V517H124.35V522.9ZM124.3 522.9V517H126.35V522.9ZM126.3 522.9V517H128.34V522.9ZM128.29 522.9V517H130.34V522.9ZM130.29 522.9V517H132.34V522.9ZM132.29 522.9V517H134.34V522.9ZM134.29 526.7V520.8H136.34V526.7ZM136.29 526.7V520.8H138.34V526.7ZM138.29 526.7V520.8H140.34V526.7ZM140.29 526.7V520.8H142.34V526.7ZM142.29 526.7V520.8H144.34V526.7ZM144.29 526.7V520.8H146.33V526.7ZM146.28 526.7V520.8H148.33V526.7ZM148.28 528.6V522.7H150.33V528.6ZM150.28 530.5V524.6H152.33V530.5ZM152.28 530.5V524.6H154.33V530.5ZM154.28 530.5V524.6H156.33V530.5ZM156.28 530.5V524.6H158.33V530.5ZM158.28 530.5V524.6H160.33V530.5ZM160.28 533V527.1H162.33V533ZM162.28 533V527.1H164.32V533ZM164.27 533V527.1H166.32V533ZM166.27 533V527.1H168.32V533ZM168.27 533V527.1H170.32V533ZM170.27 533V527.1H172.32V533ZM172.27 533V527.1H174.32V533ZM174.27 536.2V530.3H176.32V536.2ZM176.27 536.2V530.3H178.32V536.2ZM178.27 541.3V535.4H180.32V541.3ZM180.27 541.3V535.4H182.31V541.3ZM182.26 544.4V538.5H184.31V544.4ZM184.26 544.4V538.5H186.31V544.4ZM186.26 546.9V541H188.31V546.9ZM188.26 546.9V541H190.31V546.9ZM190.26 550.1V544.2H192.31V550.1ZM192.26 550.1V544.2H194.31V550.1ZM194.26 550.1V544.2H196.31V550.1ZM196.26 550.1V544.2H198.31V550.1ZM198.26 550.1V544.2H200.3V550.1ZM200.25 550.1V544.2H202.3V550.1ZM202.25 550.1V544.2H204.3V550.1ZM204.25 550.1V544.2H206.3V550.1ZM206.25 552.6V546.7H208.3V552.6ZM208.25 552.6V546.7H210.3V552.6ZM210.25 552.6V546.7H212.3V552.6ZM212.25 552.6V546.7H214.3V552.6ZM214.25 552.6V546.7H216.29V552.6ZM216.24 552.6V546.7H218.29V552.6ZM218.24 552.6V546.7H220.29V552.6ZM220.24 552.6V546.7H222.29V552.6ZM222.24 555.8V549.9H224.29V555.8ZM224.24 555.8V549.9H226.29V555.8ZM226.24 558.9V553H228.29V558.9ZM228.24 558.9V553H230.29V558.9ZM230.24 558.9V553H232.29V558.9ZM232.24 562.1V556.2H234.28V562.1ZM234.23 562.1V556.2H236.28V562.1ZM236.23 565.9V560H238.28V565.9ZM238.23 565.9V560H240.28V565.9ZM240.23 565.9V560H242.28V565.9ZM242.23 565.9V560H244.28V565.9ZM244.23 569.8V563.9H246.28V569.8ZM246.23 569.8V563.9H248.28V569.8ZM248.23 569.8V563.9H250.28V569.8ZM250.23 569.8V563.9H252.27V569.8ZM252.22 569.8V563.9H254.27V569.8ZM254.22 569.8V563.9H256.27V569.8ZM256.22 569.8V563.9H258.27V569.8ZM258.22 578.7V572.8H260.27V578.7ZM260.22 578.7V572.8H262.27V578.7ZM262.22 578.7V572.8H264.27V578.7ZM264.22 578.7V572.8H266.27V578.7ZM266.22 578.7V572.8H268.27V578.7ZM268.22 578.7V572.8H270.26V578.7ZM270.21 578.7V572.8H272.26V578.7ZM272.21 578.7V572.8H274.26V578.7ZM274.21 578.7V572.8H276.26V578.7ZM276.21 578.7V572.8H278.26V578.7ZM278.21 578.7V572.8H280.26V578.7ZM280.21 578.7V572.8H282.26V578.7ZM282.21 578.7V572.8H284.26V578.7ZM284.21 578.7V572.8H286.26V578.7ZM286.21 578.7V572.8H288.25V578.7ZM288.2 578.7V572.8H290.25V578.7ZM290.2 578.7V572.8H292.25V578.7ZM292.2 578.7V572.8H294.25V578.7ZM294.2 578.7V572.8H296.25V578.7ZM305.7 578.7V572.8H307.65V578.7ZM307.6 588V582.1H309.55V588ZM309.5 588V582.1H311.45V588ZM311.4 588V582.1H313.35V588ZM313.3 588V582.1H315.25V588ZM315.2 588V582.1H317.15V588ZM305.1 578.7V572.8H308.9V578.7ZM322.1 598.9V593H323.95V598.9ZM323.9 598.9V593H325.75V598.9ZM325.7 598.9V593H327.55V598.9ZM327.5 598.9V593H329.35V598.9ZM329.3 598.9V593H331.15V598.9ZM331.1 598.9V593H332.95V598.9ZM341.1 598.9V593H343.05V598.9ZM343 598.9V593H344.95V598.9ZM356.2 598.9V593H358.15V598.9ZM358.1 598.9V593H360.05V598.9ZM360 598.9V593H361.95V598.9ZM361.9 598.9V593H363.85V598.9ZM363.8 598.9V593H365.75V598.9ZM372.7 598.9V593H374.51V598.9ZM374.46 598.9V593H376.27V598.9ZM376.22 598.9V593H378.03V598.9ZM377.98 598.9V593H379.79V598.9ZM379.74 598.9V593H381.55V598.9ZM437.5 598.9V593H439.45V598.9ZM439.4 598.9V593H441.35V598.9ZM477.9 598.9V593H479.85V598.9ZM479.8 598.9V593H481.75V598.9ZM495.6 598.9V593H497.05V598.9ZM497 598.9V593H498.45V598.9ZM498.4 598.9V593H499.85V598.9ZM116.4 524.1V518.2H120.2V524.1Z" fill="#c84e30"/><g transform="scale(0.9 1)"><path d="M131.44 522.6H132.39V527.4H133.33H137.33V532.4H141.56V537.5H148.56V542.5H155.56V546.9H159.78V550.1H169.67V553.9H178V557H186.44V562.7H190.67V569.1H194.89V571.6H206.11V574.7H213.11V581.7H216.67V588H227.22V591.2H255.22V595H265.11V598.7H268.56V602.5H283.33V606.9H314.89V612.8H374.56V621.9H380.11V632.8H542.22" fill="none" stroke="#3c5ca0" stroke-width="4.1" stroke-linejoin="miter"/></g><path d="M118.3 522.6V516.7H120.35V522.6ZM120.3 527.4V521.5H122.34V527.4ZM122.29 527.4V521.5H124.34V527.4ZM124.29 532.4V526.5H126.33V532.4ZM126.28 532.4V526.5H128.33V532.4ZM128.28 537.5V531.6H130.32V537.5ZM130.27 537.5V531.6H132.32V537.5ZM132.27 537.5V531.6H134.32V537.5ZM134.27 542.5V536.6H136.31V542.5ZM136.26 542.5V536.6H138.31V542.5ZM138.26 542.5V536.6H140.3V542.5ZM140.25 546.9V541H142.3V546.9ZM142.25 546.9V541H144.29V546.9ZM144.24 550.1V544.2H146.29V550.1ZM146.24 550.1V544.2H148.29V550.1ZM148.24 550.1V544.2H150.28V550.1ZM150.23 550.1V544.2H152.28V550.1ZM152.23 550.1V544.2H154.27V550.1ZM154.22 553.9V548H156.27V553.9ZM156.22 553.9V548H158.26V553.9ZM158.21 553.9V548H160.26V553.9ZM160.21 557V551.1H162.26V557ZM162.21 557V551.1H164.25V557ZM164.2 557V551.1H166.25V557ZM166.2 557V551.1H168.24V557ZM168.19 562.7V556.8H170.24V562.7ZM170.19 562.7V556.8H172.23V562.7ZM172.18 569.1V563.2H174.23V569.1ZM174.18 569.1V563.2H176.23V569.1ZM176.18 571.6V565.7H178.22V571.6ZM178.17 571.6V565.7H180.22V571.6ZM180.17 571.6V565.7H182.21V571.6ZM182.16 571.6V565.7H184.21V571.6ZM184.16 571.6V565.7H186.2V571.6ZM186.15 574.7V568.8H188.2V574.7ZM188.15 574.7V568.8H190.2V574.7ZM190.15 574.7V568.8H192.19V574.7ZM192.14 581.7V575.8H194.19V581.7ZM194.14 581.7V575.8H196.18V581.7ZM196.13 588V582.1H198.18V588ZM198.13 588V582.1H200.17V588ZM200.12 588V582.1H202.17V588ZM202.12 588V582.1H204.17V588ZM204.12 588V582.1H206.16V588ZM206.11 591.2V585.3H208.16V591.2ZM208.11 591.2V585.3H210.15V591.2ZM210.1 591.2V585.3H212.15V591.2ZM212.1 591.2V585.3H214.14V591.2ZM214.09 591.2V585.3H216.14V591.2ZM216.09 591.2V585.3H218.14V591.2ZM218.09 591.2V585.3H220.13V591.2ZM220.08 591.2V585.3H222.13V591.2ZM222.08 591.2V585.3H224.12V591.2ZM224.07 591.2V585.3H226.12V591.2ZM226.07 591.2V585.3H228.11V591.2ZM228.06 591.2V585.3H230.11V591.2ZM230.06 595V589.1H232.11V595ZM232.06 595V589.1H234.1V595ZM234.05 595V589.1H236.1V595ZM236.05 595V589.1H238.09V595ZM238.04 595V589.1H240.09V595ZM240.04 598.7V592.8H242.08V598.7ZM242.03 602.5V596.6H244.08V602.5ZM244.03 602.5V596.6H246.08V602.5ZM246.03 602.5V596.6H248.07V602.5ZM248.02 602.5V596.6H250.07V602.5ZM250.02 602.5V596.6H252.06V602.5ZM252.01 602.5V596.6H254.06V602.5ZM254.01 602.5V596.6H256.05V602.5ZM256 606.9V601H258.05V606.9ZM262.1 606.9V601H264.05V606.9ZM264 606.9V601H265.95V606.9ZM268.4 606.9V601H284.2V606.9ZM284.2 612.8V606.9H286.15V612.8ZM286.1 612.8V606.9H288.05V612.8ZM289.9 612.8V606.9H291.42V612.8ZM291.37 612.8V606.9H292.88V612.8ZM292.83 612.8V606.9H294.35V612.8ZM299.4 612.8V606.9H301.35V612.8ZM301.3 612.8V606.9H303.25V612.8ZM305.7 612.8V606.9H307.32V612.8ZM307.27 612.8V606.9H308.9V612.8ZM308.85 612.8V606.9H310.48V612.8ZM310.43 612.8V606.9H312.05V612.8ZM318.3 612.8V606.9H320.1V612.8ZM320.05 612.8V606.9H321.85V612.8ZM321.8 612.8V606.9H323.6V612.8ZM323.55 612.8V606.9H325.35V612.8ZM329.7 612.8V606.9H331.65V612.8ZM331.6 612.8V606.9H333.55V612.8ZM346.1 632.8V626.9H348.05V632.8ZM348 632.8V626.9H349.95V632.8ZM349.9 632.8V626.9H351.85V632.8ZM363.2 632.8V626.9H365.15V632.8ZM365.1 632.8V626.9H367.05V632.8ZM376.4 632.8V626.9H378.35V632.8ZM378.3 632.8V626.9H380.25V632.8ZM397.7 632.8V626.9H399.75V632.8ZM399.7 632.8V626.9H401.75V632.8ZM410.3 632.8V626.9H412.25V632.8ZM412.2 632.8V626.9H414.15V632.8ZM418.5 632.8V626.9H420.45V632.8ZM420.4 632.8V626.9H422.35V632.8ZM432.4 632.8V626.9H434.35V632.8ZM434.3 632.8V626.9H436.25V632.8ZM440 632.8V626.9H441.95V632.8ZM441.9 632.8V626.9H443.85V632.8ZM443.8 632.8V626.9H445.75V632.8ZM445.7 632.8V626.9H447.65V632.8ZM447.6 632.8V626.9H449.55V632.8ZM449.5 632.8V626.9H451.45V632.8ZM451.4 632.8V626.9H453.35V632.8ZM453.3 632.8V626.9H455.25V632.8ZM460.2 632.8V626.9H462.15V632.8ZM462.1 632.8V626.9H464.05V632.8ZM484.2 632.8V626.9H486.15V632.8ZM486.1 632.8V626.9H488.05V632.8ZM116.4 524.1V518.2H120.2V524.1Z" fill="#3c5ca0"/><path d="M785.9 495.93V780.6M785.9 778.3V789.7M852 778.3V789.7M918.1 778.3V789.7M984.2 778.3V789.7M1050.3 778.3V789.7M1116.4 778.3V789.7M1182.5 778.3V789.7" stroke="#000" stroke-width="4.3" fill="none"/><path d="M783.75 778.3H1208.94M775.5 778.3H785.9M775.5 726.96H785.9M775.5 675.62H785.9M775.5 624.28H785.9M775.5 572.94H785.9M775.5 521.6H785.9" stroke="#000" stroke-width="4.6" fill="none"/><text transform="translate(762.38 785.82) scale(0.99 1)" font-size="21" font-weight="bold" fill="#000" stroke="#000" stroke-width="0.8" stroke-linejoin="round">0</text><text transform="translate(750.76 734.48) scale(0.99 1)" font-size="21" font-weight="bold" fill="#000" stroke="#000" stroke-width="0.8" stroke-linejoin="round">20</text><text transform="translate(750.76 683.14) scale(0.99 1)" font-size="21" font-weight="bold" fill="#000" stroke="#000" stroke-width="0.8" stroke-linejoin="round">40</text><text transform="translate(750.76 631.8) scale(0.99 1)" font-size="21" font-weight="bold" fill="#000" stroke="#000" stroke-width="0.8" stroke-linejoin="round">60</text><text transform="translate(750.76 580.46) scale(0.99 1)" font-size="21" font-weight="bold" fill="#000" stroke="#000" stroke-width="0.8" stroke-linejoin="round">80</text><text transform="translate(739.14 529.12) scale(0.99 1)" font-size="21" font-weight="bold" fill="#000" stroke="#000" stroke-width="0.8" stroke-linejoin="round" clip-path="url(#c4)">1</text><text transform="translate(750.76 529.12) scale(0.99 1)" font-size="21" font-weight="bold" fill="#000" stroke="#000" stroke-width="0.8" stroke-linejoin="round">00</text><text transform="translate(780.09 809.1) scale(0.99 1)" font-size="21" font-weight="bold" fill="#000" stroke="#000" stroke-width="0.8" stroke-linejoin="round">0</text><text transform="translate(840.38 809.1) scale(0.99 1)" font-size="21" font-weight="bold" fill="#000" stroke="#000" stroke-width="0.8" stroke-linejoin="round">25</text><text transform="translate(906.48 809.1) scale(0.99 1)" font-size="21" font-weight="bold" fill="#000" stroke="#000" stroke-width="0.8" stroke-linejoin="round">50</text><text transform="translate(972.58 809.1) scale(0.99 1)" font-size="21" font-weight="bold" fill="#000" stroke="#000" stroke-width="0.8" stroke-linejoin="round">75</text><text transform="translate(1032.87 809.1) scale(0.99 1)" font-size="21" font-weight="bold" fill="#000" stroke="#000" stroke-width="0.8" stroke-linejoin="round" clip-path="url(#c4)">1</text><text transform="translate(1044.49 809.1) scale(0.99 1)" font-size="21" font-weight="bold" fill="#000" stroke="#000" stroke-width="0.8" stroke-linejoin="round">00</text><text transform="translate(1098.97 809.1) scale(0.99 1)" font-size="21" font-weight="bold" fill="#000" stroke="#000" stroke-width="0.8" stroke-linejoin="round" clip-path="url(#c4)">1</text><text transform="translate(1110.59 809.1) scale(0.99 1)" font-size="21" font-weight="bold" fill="#000" stroke="#000" stroke-width="0.8" stroke-linejoin="round">25</text><text transform="translate(1165.07 809.1) scale(0.99 1)" font-size="21" font-weight="bold" fill="#000" stroke="#000" stroke-width="0.8" stroke-linejoin="round" clip-path="url(#c4)">1</text><text transform="translate(1176.69 809.1) scale(0.99 1)" font-size="21" font-weight="bold" fill="#000" stroke="#000" stroke-width="0.8" stroke-linejoin="round">50</text><text transform="translate(847.07 851.3) scale(0.99 1)" font-size="22.95" font-weight="bold" fill="#000" stroke="#000" stroke-width="0.55" stroke-linejoin="round">Time after surgery (months)</text><text transform="translate(715.4 818.48) rotate(-90) scale(1 1)" font-size="22.95" font-weight="bold" text-anchor="start" stroke="#000" stroke-width="0.45" stroke-linejoin="round">Recurence free survival rates (%)</text><text transform="translate(804 759.6) scale(0.99 1)" font-size="22.95" font-weight="bold" fill="#000" stroke="#000" stroke-width="0.55" stroke-linejoin="round">Log-rank test p=0.006</text><path d="M1066.9 706.5H1096.5" stroke="#c84e30" stroke-width="4.2" stroke-linecap="round" fill="none"/><rect x="1080" y="700.6" width="3.4" height="5.9" fill="#c84e30"/><text transform="translate(1113 714.1) scale(0.99 1)" font-size="22.95" font-weight="bold" fill="#000" stroke="#000" stroke-width="0.55" stroke-linejoin="round">High ALI (n=</text><text transform="translate(1246.3 714.1) scale(0.99 1)" font-size="22.95" font-weight="bold" fill="#000" stroke="#000" stroke-width="0.55" stroke-linejoin="round" clip-path="url(#c5)">1</text><text transform="translate(1258.91 714.1) scale(0.99 1)" font-size="22.95" font-weight="bold" fill="#000" stroke="#000" stroke-width="0.55" stroke-linejoin="round">60)</text><path d="M1066.9 745.2H1096.5" stroke="#3c5ca0" stroke-width="4.2" stroke-linecap="round" fill="none"/><rect x="1080" y="739.3" width="3.4" height="5.9" fill="#3c5ca0"/><text transform="translate(1113 752.7) scale(0.99 1)" font-size="22.95" font-weight="bold" fill="#000" stroke="#000" stroke-width="0.55" stroke-linejoin="round">Low ALI (n=</text><text transform="translate(1241.26 752.7) scale(0.99 1)" font-size="22.95" font-weight="bold" fill="#000" stroke="#000" stroke-width="0.55" stroke-linejoin="round" clip-path="url(#c5)">1</text><text transform="translate(1253.87 752.7) scale(0.99 1)" font-size="22.95" font-weight="bold" fill="#000" stroke="#000" stroke-width="0.55" stroke-linejoin="round">60)</text><text x="803.4" y="474.7" font-size="24" font-weight="normal" text-anchor="start" fill="#000">D</text><g transform="scale(0.9 1)"><path d="M873.11 521.9H876.39V524.3H879.67H880.63V526.63H882.56V528.97H884.48V531.3H885.44H885.44V535.1H891.11V538.9H896.67V542.1H903.67V547.1H909.33V550.3H917V553.5H930.33V559.1H936V562.9H941.67V564.8H945.78V568H969.44V571.1H980.78V574.3H985.11V577H992.67V580.1H999V581.9H1002V584.3H1011.56V587.7H1016.56V591.8H1040.44V596.8H1083.22V606.1H1298" fill="none" stroke="#c84e30" stroke-width="4.1" stroke-linejoin="miter"/></g><path d="M785.8 521.9V516H787.85V521.9ZM787.8 522.71V516.81H789.85V522.71ZM789.8 523.53V517.63H791.85V523.53ZM791.8 524.43V518.53H793.85V524.43ZM793.8 527.12V521.22H795.84V527.12ZM795.79 529.81V523.91H797.84V529.81ZM797.79 535.1V529.2H799.84V535.1ZM799.79 535.1V529.2H801.84V535.1ZM801.79 535.1V529.2H803.84V535.1ZM803.79 538.9V533H805.84V538.9ZM805.79 538.9V533H807.84V538.9ZM807.79 542.1V536.2H809.84V542.1ZM809.79 542.1V536.2H811.84V542.1ZM811.79 542.1V536.2H813.83V542.1ZM813.78 547.1V541.2H815.83V547.1ZM815.78 547.1V541.2H817.83V547.1ZM817.78 547.1V541.2H819.83V547.1ZM819.78 550.3V544.4H821.83V550.3ZM821.78 550.3V544.4H823.83V550.3ZM823.78 550.3V544.4H825.83V550.3ZM825.78 553.5V547.6H827.83V553.5ZM827.78 553.5V547.6H829.83V553.5ZM829.78 553.5V547.6H831.82V553.5ZM831.77 553.5V547.6H833.82V553.5ZM833.77 553.5V547.6H835.82V553.5ZM835.77 553.5V547.6H837.82V553.5ZM837.77 559.1V553.2H839.82V559.1ZM839.77 559.1V553.2H841.82V559.1ZM841.77 559.1V553.2H843.82V559.1ZM843.77 562.9V557H845.82V562.9ZM845.77 562.9V557H847.82V562.9ZM847.77 564.8V558.9H849.81V564.8ZM849.76 564.8V558.9H851.81V564.8ZM851.76 568V562.1H853.81V568ZM853.76 568V562.1H855.81V568ZM855.76 568V562.1H857.81V568ZM857.76 568V562.1H859.81V568ZM859.76 568V562.1H861.81V568ZM861.76 568V562.1H863.81V568ZM863.76 568V562.1H865.81V568ZM865.76 568V562.1H867.8V568ZM867.75 568V562.1H869.8V568ZM869.75 568V562.1H871.8V568ZM871.75 568V562.1H873.8V568ZM873.75 571.1V565.2H875.8V571.1ZM875.75 571.1V565.2H877.8V571.1ZM877.75 571.1V565.2H879.8V571.1ZM879.75 571.1V565.2H881.8V571.1ZM881.75 571.1V565.2H883.79V571.1ZM883.74 574.3V568.4H885.79V574.3ZM885.74 574.3V568.4H887.79V574.3ZM887.74 577V571.1H889.79V577ZM889.74 577V571.1H891.79V577ZM891.74 577V571.1H893.79V577ZM893.74 580.1V574.2H895.79V580.1ZM895.74 580.1V574.2H897.79V580.1ZM897.74 580.1V574.2H899.79V580.1ZM899.74 581.9V576H901.78V581.9ZM901.73 581.9V576H903.78V581.9ZM903.73 584.3V578.4H905.78V584.3ZM905.73 584.3V578.4H907.78V584.3ZM907.73 584.3V578.4H909.78V584.3ZM909.73 584.3V578.4H911.78V584.3ZM911.73 587.7V581.8H913.78V587.7ZM913.73 587.7V581.8H915.78V587.7ZM915.73 591.8V585.9H917.78V591.8ZM917.73 591.8V585.9H919.77V591.8ZM919.72 591.8V585.9H921.77V591.8ZM921.72 591.8V585.9H923.77V591.8ZM923.72 591.8V585.9H925.77V591.8ZM925.72 591.8V585.9H927.77V591.8ZM927.72 591.8V585.9H929.77V591.8ZM929.72 591.8V585.9H931.77V591.8ZM931.72 591.8V585.9H933.77V591.8ZM933.72 591.8V585.9H935.77V591.8ZM935.72 591.8V585.9H937.76V591.8ZM937.71 596.8V590.9H939.76V596.8ZM939.71 596.8V590.9H941.76V596.8ZM941.71 596.8V590.9H943.76V596.8ZM943.71 596.8V590.9H945.76V596.8ZM945.71 596.8V590.9H947.76V596.8ZM947.71 596.8V590.9H949.76V596.8ZM949.71 596.8V590.9H951.76V596.8ZM951.71 596.8V590.9H953.76V596.8ZM953.71 596.8V590.9H955.75V596.8ZM955.7 596.8V590.9H957.75V596.8ZM957.7 596.8V590.9H959.75V596.8ZM959.7 596.8V590.9H961.75V596.8ZM961.7 596.8V590.9H963.75V596.8ZM976.3 606.1V600.2H978.23V606.1ZM978.18 606.1V600.2H980.1V606.1ZM980.05 606.1V600.2H981.98V606.1ZM981.93 606.1V600.2H983.86V606.1ZM983.81 606.1V600.2H985.73V606.1ZM985.68 606.1V600.2H987.61V606.1ZM987.56 606.1V600.2H989.49V606.1ZM989.44 606.1V600.2H991.37V606.1ZM991.32 606.1V600.2H993.24V606.1ZM993.19 606.1V600.2H995.12V606.1ZM995.07 606.1V600.2H997V606.1ZM996.95 606.1V600.2H998.87V606.1ZM998.82 606.1V600.2H1000.75V606.1ZM971.9 596.8V590.9H976.3V596.8ZM1008.9 606.1V600.2H1010.85V606.1ZM1010.8 606.1V600.2H1012.75V606.1ZM1023.4 606.1V600.2H1025.25V606.1ZM1025.2 606.1V600.2H1027.05V606.1ZM1027 606.1V600.2H1028.85V606.1ZM1028.8 606.1V600.2H1030.65V606.1ZM1030.6 606.1V600.2H1032.45V606.1ZM1032.4 606.1V600.2H1034.25V606.1ZM1040.5 606.1V600.2H1042.31V606.1ZM1042.26 606.1V600.2H1044.07V606.1ZM1044.02 606.1V600.2H1045.83V606.1ZM1045.78 606.1V600.2H1047.59V606.1ZM1047.54 606.1V600.2H1049.35V606.1ZM1104.9 606.1V600.2H1106.32V606.1ZM1106.27 606.1V600.2H1107.68V606.1ZM1107.63 606.1V600.2H1109.05V606.1ZM1145.4 606.1V600.2H1146.92V606.1ZM1146.87 606.1V600.2H1148.38V606.1ZM1148.33 606.1V600.2H1149.85V606.1ZM1163.8 606.1V600.2H1165.32V606.1ZM1165.27 606.1V600.2H1166.78V606.1ZM1166.73 606.1V600.2H1168.25V606.1ZM783.9 523.4V517.5H787.7V523.4Z" fill="#c84e30"/><g transform="scale(0.9 1)"><path d="M873.11 521.9H875.78V532H881.22V540.2H884.11V547.1H888.22V551.6H893.22V557.9H896.67V564.8H900.22V571.1H903.67V574.9H910.78V576.8H917.78V582.5H922V589.5H926.22V593.9H931.78V598.9H947.22V602.8H956.89V609.3H968.11V612.8H996.89V616.4H1006.67V620.2H1026.33V628.9H1056.56V634.7H1089.56V642.3H1116.78V650.9H1121.56V660.3H1258.22" fill="none" stroke="#3c5ca0" stroke-width="4.1" stroke-linejoin="miter"/></g><path d="M785.8 521.9V516H787.82V521.9ZM787.77 521.9V516H789.8V521.9ZM789.75 532V526.1H791.77V532ZM791.72 532V526.1H793.75V532ZM793.7 540.2V534.3H795.72V540.2ZM795.67 540.2V534.3H797.69V540.2ZM797.64 547.1V541.2H799.67V547.1ZM799.62 551.6V545.7H801.64V551.6ZM801.59 551.6V545.7H803.62V551.6ZM803.57 551.6V545.7H805.59V551.6ZM805.54 557.9V552H807.56V557.9ZM807.51 564.8V558.9H809.54V564.8ZM809.49 564.8V558.9H811.51V564.8ZM811.46 571.1V565.2H813.48V571.1ZM813.43 574.9V569H815.46V574.9ZM815.41 574.9V569H817.43V574.9ZM817.38 574.9V569H819.41V574.9ZM819.36 574.9V569H821.38V574.9ZM821.33 576.8V570.9H823.35V576.8ZM823.3 576.8V570.9H825.33V576.8ZM825.28 576.8V570.9H827.3V576.8ZM827.25 582.5V576.6H829.28V582.5ZM829.23 582.5V576.6H831.25V582.5ZM831.2 589.5V583.6H833.22V589.5ZM833.17 589.5V583.6H835.2V589.5ZM835.15 593.9V588H837.17V593.9ZM837.12 593.9V588H839.15V593.9ZM839.1 598.9V593H841.12V598.9ZM841.07 598.9V593H843.09V598.9ZM843.04 598.9V593H845.07V598.9ZM845.02 598.9V593H847.04V598.9ZM846.99 598.9V593H849.02V598.9ZM848.97 598.9V593H850.99V598.9ZM850.94 598.9V593H852.96V598.9ZM852.91 602.8V596.9H854.94V602.8ZM854.89 602.8V596.9H856.91V602.8ZM856.86 602.8V596.9H858.88V602.8ZM858.83 602.8V596.9H860.86V602.8ZM860.81 602.8V596.9H862.83V602.8ZM862.78 609.3V603.4H864.81V609.3ZM864.76 609.3V603.4H866.78V609.3ZM866.73 609.3V603.4H868.75V609.3ZM868.7 609.3V603.4H870.73V609.3ZM870.68 609.3V603.4H872.7V609.3ZM872.65 612.8V606.9H874.68V612.8ZM874.63 612.8V606.9H876.65V612.8ZM876.6 612.8V606.9H878.62V612.8ZM878.57 612.8V606.9H880.6V612.8ZM880.55 612.8V606.9H882.57V612.8ZM882.52 612.8V606.9H884.55V612.8ZM884.5 612.8V606.9H886.52V612.8ZM886.47 612.8V606.9H888.49V612.8ZM888.44 612.8V606.9H890.47V612.8ZM890.42 612.8V606.9H892.44V612.8ZM892.39 612.8V606.9H894.42V612.8ZM894.37 612.8V606.9H896.39V612.8ZM896.34 612.8V606.9H898.36V612.8ZM898.31 616.4V610.5H900.34V616.4ZM900.29 616.4V610.5H902.31V616.4ZM902.26 616.4V610.5H904.28V616.4ZM904.23 616.4V610.5H906.26V616.4ZM906.21 620.2V614.3H908.23V620.2ZM908.18 620.2V614.3H910.21V620.2ZM910.16 620.2V614.3H912.18V620.2ZM912.13 620.2V614.3H914.15V620.2ZM914.1 620.2V614.3H916.13V620.2ZM916.08 620.2V614.3H918.1V620.2ZM918.05 620.2V614.3H920.08V620.2ZM920.03 620.2V614.3H922.05V620.2ZM929 628.9V623H930.52V628.9ZM930.47 628.9V623H931.98V628.9ZM931.93 628.9V623H933.45V628.9ZM935.9 628.9V623H937.65V628.9ZM937.6 628.9V623H939.35V628.9ZM939.3 628.9V623H941.05V628.9ZM943.5 628.9V623H951.7V628.9ZM957.4 634.7V628.8H959.35V634.7ZM959.3 634.7V628.8H961.25V634.7ZM961.2 634.7V628.8H963.15V634.7ZM966.9 634.7V628.8H968.42V634.7ZM968.37 634.7V628.8H969.88V634.7ZM969.83 634.7V628.8H971.35V634.7ZM973.2 634.7V628.8H980.8V634.7ZM985.8 642.3V636.4H987.75V642.3ZM987.7 642.3V636.4H989.65V642.3ZM989.6 642.3V636.4H991.55V642.3ZM991.5 642.3V636.4H993.45V642.3ZM997.2 642.3V636.4H998.62V642.3ZM998.57 642.3V636.4H999.98V642.3ZM999.93 642.3V636.4H1001.35V642.3ZM1014 660.3V654.4H1015.92V660.3ZM1015.87 660.3V654.4H1017.78V660.3ZM1017.73 660.3V654.4H1019.65V660.3ZM1030.4 660.3V654.4H1031.92V660.3ZM1031.87 660.3V654.4H1033.38V660.3ZM1033.33 660.3V654.4H1034.85V660.3ZM1043.6 660.3V654.4H1045.15V660.3ZM1045.1 660.3V654.4H1046.65V660.3ZM1046.6 660.3V654.4H1048.15V660.3ZM1065.8 660.3V654.4H1067.7V660.3ZM1067.65 660.3V654.4H1069.55V660.3ZM1078.4 660.3V654.4H1080.35V660.3ZM1080.3 660.3V654.4H1082.25V660.3ZM1086 660.3V654.4H1087.52V660.3ZM1087.47 660.3V654.4H1088.98V660.3ZM1088.93 660.3V654.4H1090.45V660.3ZM1099.2 660.3V654.4H1100.75V660.3ZM1100.7 660.3V654.4H1102.25V660.3ZM1102.2 660.3V654.4H1103.75V660.3ZM1108.1 660.3V654.4H1110.05V660.3ZM1110 660.3V654.4H1111.95V660.3ZM1111.9 660.3V654.4H1113.85V660.3ZM1113.8 660.3V654.4H1115.75V660.3ZM1115.7 660.3V654.4H1117.65V660.3ZM1119.4 660.3V654.4H1120.95V660.3ZM1120.9 660.3V654.4H1122.45V660.3ZM1122.4 660.3V654.4H1123.95V660.3ZM1128.3 660.3V654.4H1129.72V660.3ZM1129.67 660.3V654.4H1131.08V660.3ZM1131.03 660.3V654.4H1132.45V660.3ZM783.9 523.4V517.5H787.7V523.4Z" fill="#3c5ca0"/><text x="10" y="867.6" font-size="16" font-weight="normal" fill="#a422e6">ylzx.net</text>
</svg></body></html>
